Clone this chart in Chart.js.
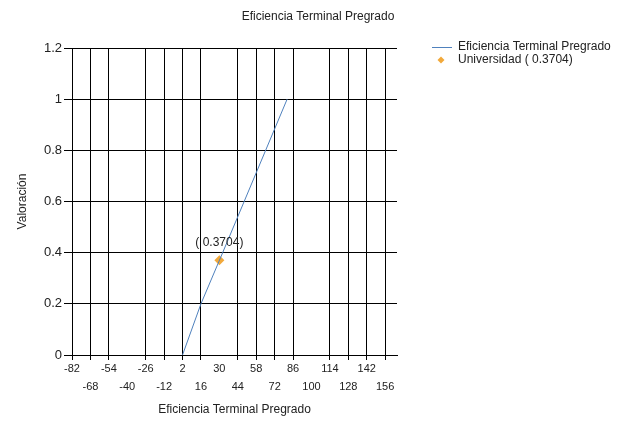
<!DOCTYPE html>
<html>
<head>
<meta charset="utf-8">
<script src="https://cdn.jsdelivr.net/npm/chart.js@4.4.0/dist/chart.umd.min.js"></script>
<style>
  html, body { margin: 0; padding: 0; background: #ffffff; }
  #wrap { width: 618px; height: 425px; }
</style>
</head>
<body>
<div id="wrap"><canvas id="c" width="618" height="425"></canvas></div>
<script>
// ---- data ----
const chartTitle = 'Eficiencia Terminal Pregrado';
const xAxisTitle = 'Eficiencia Terminal Pregrado';
const yAxisTitle = 'Valoración';
const seriesNames = ['Eficiencia Terminal Pregrado', 'Universidad ( 0.3704)'];
const xTickValues = [-82, -68, -54, -40, -26, -12, 2, 16, 30, 44, 58, 72, 86, 100, 114, 128, 142, 156];
const yTickValues = [0, 0.2, 0.4, 0.6, 0.8, 1, 1.2];
const xTickLabels = ['-82', '-68', '-54', '-40', '-26', '-12', '2', '16', '30', '44', '58', '72', '86', '100', '114', '128', '142', '156'];
const yTickLabels = ['0', '0.2', '0.4', '0.6', '0.8', '1', '1.2'];
const gridlessXTicks = [-40, 30, 100];
const curveX = [2, 16, 32.5, 81.5];
const curveY = [0, 0.2, 0.4, 1];
const uniX = [30];
const uniY = [0.3704];
const uniLabels = ['( 0.3704)'];
const xMin = -82, xMax = 165, yMin = 0, yMax = 1.2;

const lineColor = '#4f81bd';
const pointColor = '#f2a93b';
const textColor = '#222222';
const FONT = "'Liberation Sans', Arial, sans-serif";

const titlePlugin = {
  id: 'customTitle',
  afterDraw(chart) {
    const ctx = chart.ctx;
    ctx.save();
    ctx.font = '12px ' + FONT;
    ctx.fillStyle = textColor;
    ctx.textAlign = 'center';
    ctx.textBaseline = 'middle';
    ctx.fillText(chartTitle, 318, 17);
    ctx.restore();
  }
};

const legendPlugin = {
  id: 'customLegend',
  afterDraw(chart) {
    const ctx = chart.ctx;
    const x0 = 432, tx = 458, y1 = 47, y2 = 60;
    ctx.save();
    ctx.strokeStyle = lineColor;
    ctx.lineWidth = 1;
    ctx.beginPath();
    ctx.moveTo(x0, y1 + 0.5);
    ctx.lineTo(x0 + 20, y1 + 0.5);
    ctx.stroke();
    ctx.fillStyle = pointColor;
    const cx = x0 + 9, r = 3.5;
    ctx.beginPath();
    ctx.moveTo(cx, y2 - r); ctx.lineTo(cx + r, y2); ctx.lineTo(cx, y2 + r); ctx.lineTo(cx - r, y2);
    ctx.closePath(); ctx.fill();
    ctx.font = '12px ' + FONT;
    ctx.fillStyle = textColor;
    ctx.textAlign = 'left';
    ctx.textBaseline = 'middle';
    ctx.fillText(seriesNames[0], tx, y1);
    ctx.fillText(seriesNames[1], tx, y2);
    ctx.restore();
  }
};

const pointLabelPlugin = {
  id: 'pointLabels',
  afterDatasetsDraw(chart) {
    const ctx = chart.ctx;
    const xs = chart.scales.x, ys = chart.scales.y;
    ctx.save();
    ctx.font = '12px ' + FONT;
    ctx.fillStyle = textColor;
    ctx.textAlign = 'center';
    ctx.textBaseline = 'middle';
    uniX.forEach((v, i) => {
      ctx.fillText(uniLabels[i], xs.getPixelForValue(v), ys.getPixelForValue(uniY[i]) - 18);
    });
    ctx.restore();
  }
};

new Chart(document.getElementById('c'), {
  type: 'scatter',
  data: {
    datasets: [
      {
        label: seriesNames[0],
        data: curveX.map((x, i) => ({ x: x, y: curveY[i] })),
        showLine: true,
        borderColor: lineColor,
        borderWidth: 1,
        pointRadius: 0,
        pointHoverRadius: 0,
        fill: false
      },
      {
        label: seriesNames[1],
        data: uniX.map((x, i) => ({ x: x, y: uniY[i] })),
        pointStyle: 'rectRot',
        pointRadius: 5,
        backgroundColor: pointColor,
        borderColor: pointColor,
        borderWidth: 0
      }
    ]
  },
  options: {
    responsive: false,
    animation: false,
    layout: { padding: { top: 48, right: 221, bottom: 0, left: 0 } },
    plugins: { legend: { display: false }, title: { display: false }, tooltip: { enabled: false } },
    scales: {
      x: {
        type: 'linear',
        min: xMin, max: xMax,
        afterBuildTicks(scale) { scale.ticks = xTickValues.map(v => ({ value: v })); },
        afterFit(scale) { scale.height = 70; },
        grid: {
          color(ctx) { return (ctx.tick && gridlessXTicks.includes(ctx.tick.value)) ? 'rgba(0,0,0,0)' : '#000000'; },
          lineWidth: 1,
          tickLength: 5,
          drawTicks: true
        },
        border: { display: true, color: '#000000' },
        ticks: {
          autoSkip: false,
          maxRotation: 0,
          minRotation: 0,
          padding: 0,
          color: textColor,
          font: { family: FONT, size: 11, lineHeight: '18px' },
          callback(value, index) {
            const i = xTickValues.indexOf(value);
            const lbl = i >= 0 ? xTickLabels[i] : '';
            return (i % 2 === 0) ? [lbl, ''] : ['', lbl];
          }
        },
        title: {
          display: true,
          text: xAxisTitle,
          color: textColor,
          font: { family: FONT, size: 12 },
          padding: { top: 0, bottom: 8 }
        }
      },
      y: {
        type: 'linear',
        min: yMin, max: yMax,
        afterBuildTicks(scale) { scale.ticks = yTickValues.map(v => ({ value: v })); },
        afterFit(scale) { scale.width = 72; },
        grid: { color: '#000000', lineWidth: 1, tickLength: 8 },
        border: { display: true, color: '#000000' },
        ticks: {
          padding: 2,
          color: textColor,
          font: { family: FONT, size: 13 },
          callback(value) {
            const i = yTickValues.findIndex(v => Math.abs(v - value) < 1e-9);
            return i >= 0 ? yTickLabels[i] : '';
          }
        },
        title: {
          display: true,
          text: yAxisTitle,
          color: textColor,
          font: { family: FONT, size: 12 },
          padding: { top: 15, bottom: 0 }
        }
      }
    }
  },
  plugins: [titlePlugin, legendPlugin, pointLabelPlugin]
});
</script>
</body>
</html>
